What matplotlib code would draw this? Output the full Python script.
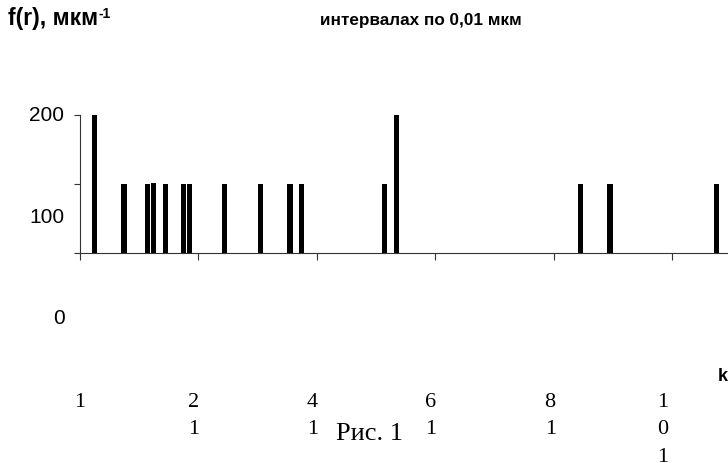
#!/usr/bin/env python3
"""Redraw of Рис. 1: f(r) histogram over k (bins of 0,01 мкм)."""

import matplotlib

matplotlib.use("Agg")
import matplotlib.pyplot as plt

# non-empty bins: category number k and f(r) value
k_values = [3, 8, 12, 13, 15, 18, 19, 25, 31, 36, 38, 52, 54, 85, 90, 108]
f_values = [200, 100, 100, 101.4, 100, 100, 100, 100, 100, 100, 100, 100, 200, 100, 100, 100]

y_ticks = [0, 100, 200]
y_tick_labels = ["0", "100", "200"]
x_label_k = [1, 21, 41, 61, 81, 101]
x_tick_labels = ["1", "2\n1", "4\n1", "6\n1", "8\n1", "1\n0\n1"]

title_left = "f(r), мкм"
title_sup = "-1"
title_right = "интервалах по 0,01 мкм"
axis_name = "k"
caption = "Рис. 1"

# the source layout puts its labels off the tick marks, shifts in pixels
y_label_shift = [-64, -33, 0]
x_label_shift = [-2.5, -7.5, -7, -7.5, -6.5, -12.5]

W, H = 728, 464
AXIS_COLOR = "#333333"
SANS = ["Liberation Sans", "DejaVu Sans"]
SERIF = ["Liberation Serif", "DejaVu Serif"]


def main() -> None:
    fig = plt.figure(figsize=(W / 100, H / 100), dpi=100)
    ax = fig.add_axes([79.5 / W, (H - 254) / H, (W - 79.5) / W, (254 - 115.5) / H])

    ax.bar(k_values, f_values, width=0.88, color="black", linewidth=0)
    ax.set_xlim(0.5, 109.9)
    ax.set_ylim(0, 200)

    for side in ("top", "right"):
        ax.spines[side].set_visible(False)
    for side in ("left", "bottom"):
        ax.spines[side].set_color(AXIS_COLOR)
        ax.spines[side].set_linewidth(0.8)

    ax.set_xticks([k - 0.5 for k in x_label_k])
    ax.set_yticks(y_ticks)
    ax.tick_params(axis="x", direction="out", length=5, width=0.8, color=AXIS_COLOR, labelbottom=False)
    ax.tick_params(axis="y", direction="out", length=4.3, width=0.8, color=AXIS_COLOR, labelleft=False)

    # value labels, sans serif, right aligned left of the axis
    for val, text, dy in zip(y_ticks, y_tick_labels, y_label_shift):
        ax.annotate(text, xy=(0, val), xycoords=ax.get_yaxis_transform(),
                    xytext=(-15, dy), textcoords="offset pixels",
                    ha="right", va="center", fontsize=15, family=SANS,
                    annotation_clip=False)

    # category labels, wrapped one digit per line as in the source
    for k, text, dx in zip(x_label_k, x_tick_labels, x_label_shift):
        ax.annotate(text, xy=(k, 0), xycoords="data",
                    xytext=(dx, -139), textcoords="offset pixels",
                    ha="center", va="top", fontsize=16, family=SERIF,
                    linespacing=1.6, annotation_clip=False)

    t1 = fig.text(8 / W, 1 - 19 / H, title_left, ha="left", va="center",
                  fontsize=16.5, fontweight="bold", family=SANS)
    ax.annotate(title_sup, xy=(1, 1), xycoords=t1, xytext=(0, 1), textcoords="offset pixels",
                ha="left", va="top", fontsize=10, fontweight="bold", family=SANS)
    fig.text(320 / W, 1 - 20 / H, title_right, ha="left", va="center",
             fontsize=12.3, fontweight="bold", family=SANS)

    fig.text(722.5 / W, 1 - 377 / H, axis_name, ha="center", va="center",
             fontsize=13, fontweight="bold", family=SANS)
    fig.text(369 / W, 1 - 434 / H, caption, ha="center", va="center",
             fontsize=19, family=SERIF)

    fig.savefig("out.png", dpi=100)
    plt.close(fig)


if __name__ == "__main__":
    main()
